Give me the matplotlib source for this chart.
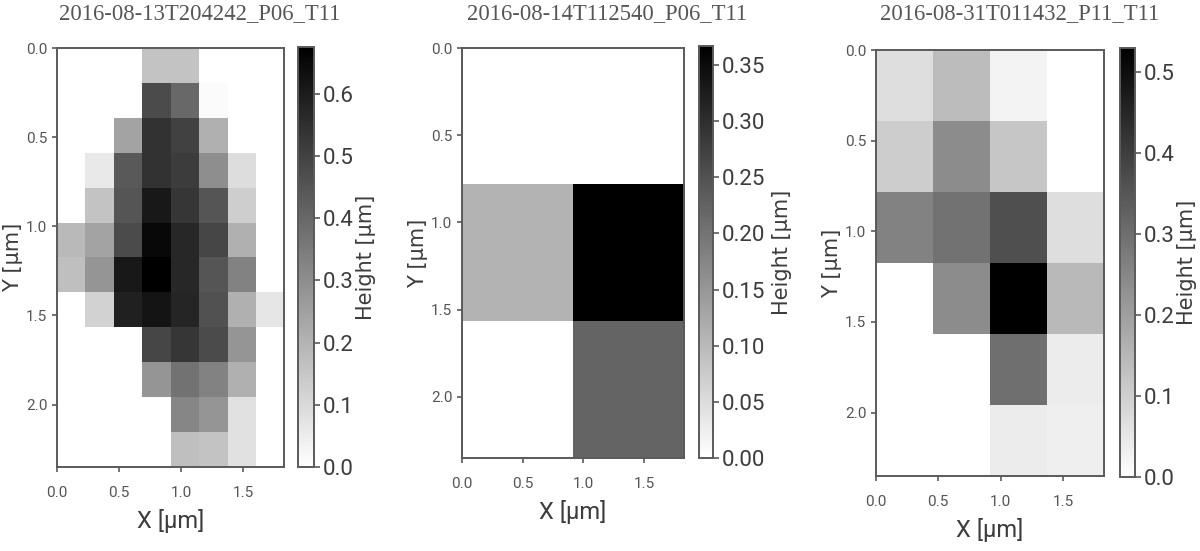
import numpy as np
import matplotlib
matplotlib.use('Agg')
import matplotlib.pyplot as plt

# Panel titles and heights
titles = ['2016-08-13T204242_P06_T11', '2016-08-14T112540_P06_T11', '2016-08-31T011432_P11_T11']

heights_a = [
    [0, 0, 0, .16, .16, 0, 0, 0],
    [0, 0, 0, .475, .40, .013, 0, 0],
    [0, 0, .24, .54, .50, .21, 0, 0],
    [0, .06, .44, .54, .515, .30, .09, 0],
    [0, .16, .45, .61, .53, .45, .13, 0],
    [.185, .24, .475, .65, .57, .49, .21, 0],
    [.17, .28, .61, .675, .57, .45, .33, 0],
    [0, .12, .59, .62, .575, .46, .21, .066],
    [0, 0, 0, .49, .53, .475, .28, 0],
    [0, 0, 0, .28, .37, .33, .21, 0],
    [0, 0, 0, 0, .32, .28, .08, 0],
    [0, 0, 0, 0, .17, .16, .08, 0],
]
heights_b = [
    [0, 0],
    [.11, .367],
    [0, .223],
]
heights_c = [
    [.07, .14, .025, 0],
    [.105, .24, .12, 0],
    [.26, .29, .365, .07],
    [0, .24, .53, .145],
    [0, 0, .30, .04],
    [0, 0, .04, .035],
]
cbar_ticks_a = [0.0, 0.1, 0.2, 0.3, 0.4, 0.5, 0.6]
cbar_ticks_b = [0.00, 0.05, 0.10, 0.15, 0.20, 0.25, 0.30, 0.35]
cbar_ticks_c = [0.0, 0.1, 0.2, 0.3, 0.4, 0.5]
xticks = [0.0, 0.5, 1.0, 1.5]
yticks = [0.0, 0.5, 1.0, 1.5, 2.0]
x_max = 1.83
y_max = 2.35

W, H = 1200, 551
text_col = '#3c3c3c'
edge_col = '#5a5a5a'

fig = plt.figure(figsize=(W / 100, H / 100), dpi=100, facecolor='white')


def px_axes(left, top, right, bottom):
    return fig.add_axes([left / W, 1 - bottom / H, (right - left) / W, (bottom - top) / H])


def draw_panel(data, title, cbar_ticks, cbar_fmt, box, cbox, tx, cb_pad=2):
    ax = px_axes(*box)
    im = ax.imshow(np.array(data), cmap='gray_r', vmin=0, vmax=np.max(data), aspect='auto',
                   interpolation='nearest', extent=[0, x_max, y_max, 0])
    ax.set_xticks(xticks)
    ax.set_yticks(yticks)
    ax.tick_params(labelsize=11, labelcolor='#555555', color=edge_col, length=3.5, width=1.2)
    ax.tick_params(axis='x', pad=10)
    for lab in ax.get_xticklabels() + ax.get_yticklabels():
        lab.set_family('Roboto')
    for sp in ax.spines.values():
        sp.set_color(edge_col)
        sp.set_linewidth(1.4)
    ax.set_xlabel('X [µm]', fontsize=17, family='Roboto', color=text_col, labelpad=7)
    ax.set_ylabel('Y [µm]', fontsize=15, family='DejaVu Sans', color=text_col, labelpad=2)

    cax = px_axes(*cbox)
    cb = fig.colorbar(im, cax=cax)
    cb.set_ticks(cbar_ticks)
    cb.set_ticklabels([cbar_fmt % t for t in cbar_ticks])
    cb.ax.tick_params(labelsize=16, labelcolor=text_col, color=edge_col, length=4, width=1.2, pad=2)
    for lab in cb.ax.get_yticklabels():
        lab.set_family('Roboto')
    cb.outline.set_edgecolor(edge_col)
    cb.outline.set_linewidth(1.4)
    cb.set_label('Height [µm]', fontsize=15, family='DejaVu Sans', color=text_col, labelpad=cb_pad)

    fig.text(tx / W, 1 - 14 / H, title, fontsize=16.3, family='Liberation Serif', color='#555555',
             ha='center', va='center')


draw_panel(heights_a, titles[0], cbar_ticks_a, '%.1f', (57, 48, 284, 467), (298, 47, 314, 467), 200)
draw_panel(heights_b, titles[1], cbar_ticks_b, '%.2f', (462, 48, 684, 458), (699, 46, 713, 458), 607, cb_pad=5)
draw_panel(heights_c, titles[2], cbar_ticks_c, '%.1f', (876, 50, 1104, 476), (1120, 48, 1135, 477), 1020)

fig.savefig('out.png', dpi=100)
